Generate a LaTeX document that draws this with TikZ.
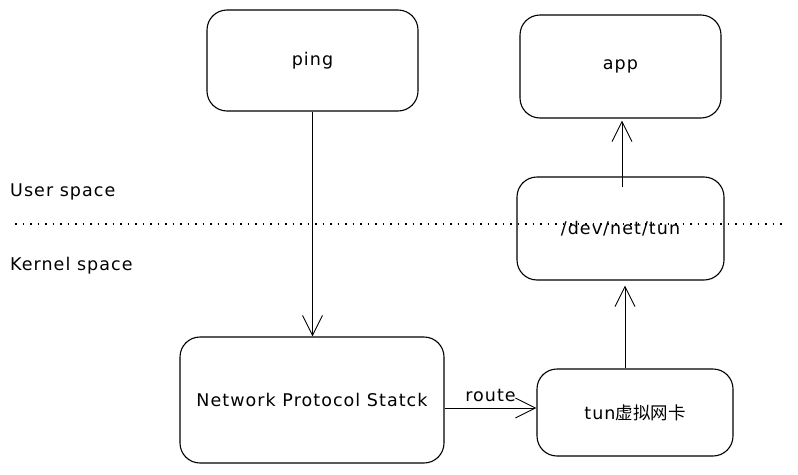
\documentclass[tikz,border=0pt]{standalone}
\usepackage{fontspec}
\setmainfont{DejaVu Sans}[LetterSpace=6]
\newfontfamily\cjk{Noto Sans CJK SC}
\usetikzlibrary{arrows.meta}
\begin{document}
\begin{tikzpicture}[x=1pt,y=-1pt,
  box/.style={draw=black,line width=1.1pt,rounded corners=20pt,fill=white,inner sep=0pt,font=\fontsize{17.5}{20}\selectfont},
  conn/.style={draw=black,line width=0.9pt,-{Straight Barb[length=20pt,width=20pt,line width=0.9pt]}},
  lbl/.style={font=\fontsize{17.5}{20}\selectfont,inner sep=0pt}]
\useasboundingbox[fill=white] (0,0) rectangle (798,474);
\draw[line width=1.1pt,dotted,dash pattern=on 1.5pt off 6pt] (15,224) -- (785,224);
\node[box,minimum width=211pt,minimum height=101pt] (ping) at (312.5,60.5) {ping};
\node[box,minimum width=201pt,minimum height=103pt] (app) at (620.5,66.5) {app};
\node[box,minimum width=207pt,minimum height=103pt,fill=none] (dev) at (620.5,228.5) {/dev/net/tun};
\node[box,minimum width=264pt,minimum height=126pt] (nps) at (312,400) {Network Protocol Statck};
\node[box,minimum width=196pt,minimum height=87pt] (tun) at (635,412.5) {tun{\cjk 虚拟网卡}};
\node[lbl,anchor=west] (user) at (10,192) {User space};
\node[lbl,anchor=west] (kernel) at (10,266) {Kernel space};
\draw[conn] (ping.south) -- (nps.north -| ping.south);
\draw[conn] (nps.east |- 0,408) -- node[lbl,above=6pt] (route) {route} (tun.west |- 0,408);
\draw[conn] (tun.north -| 625,0) -- ([yshift=-5pt]dev.south -| 625,0);
\draw[conn] ([yshift=-11pt]dev.north -| 622,0) -- ([yshift=-2pt]app.south -| 622,0);
\end{tikzpicture}
\end{document}
